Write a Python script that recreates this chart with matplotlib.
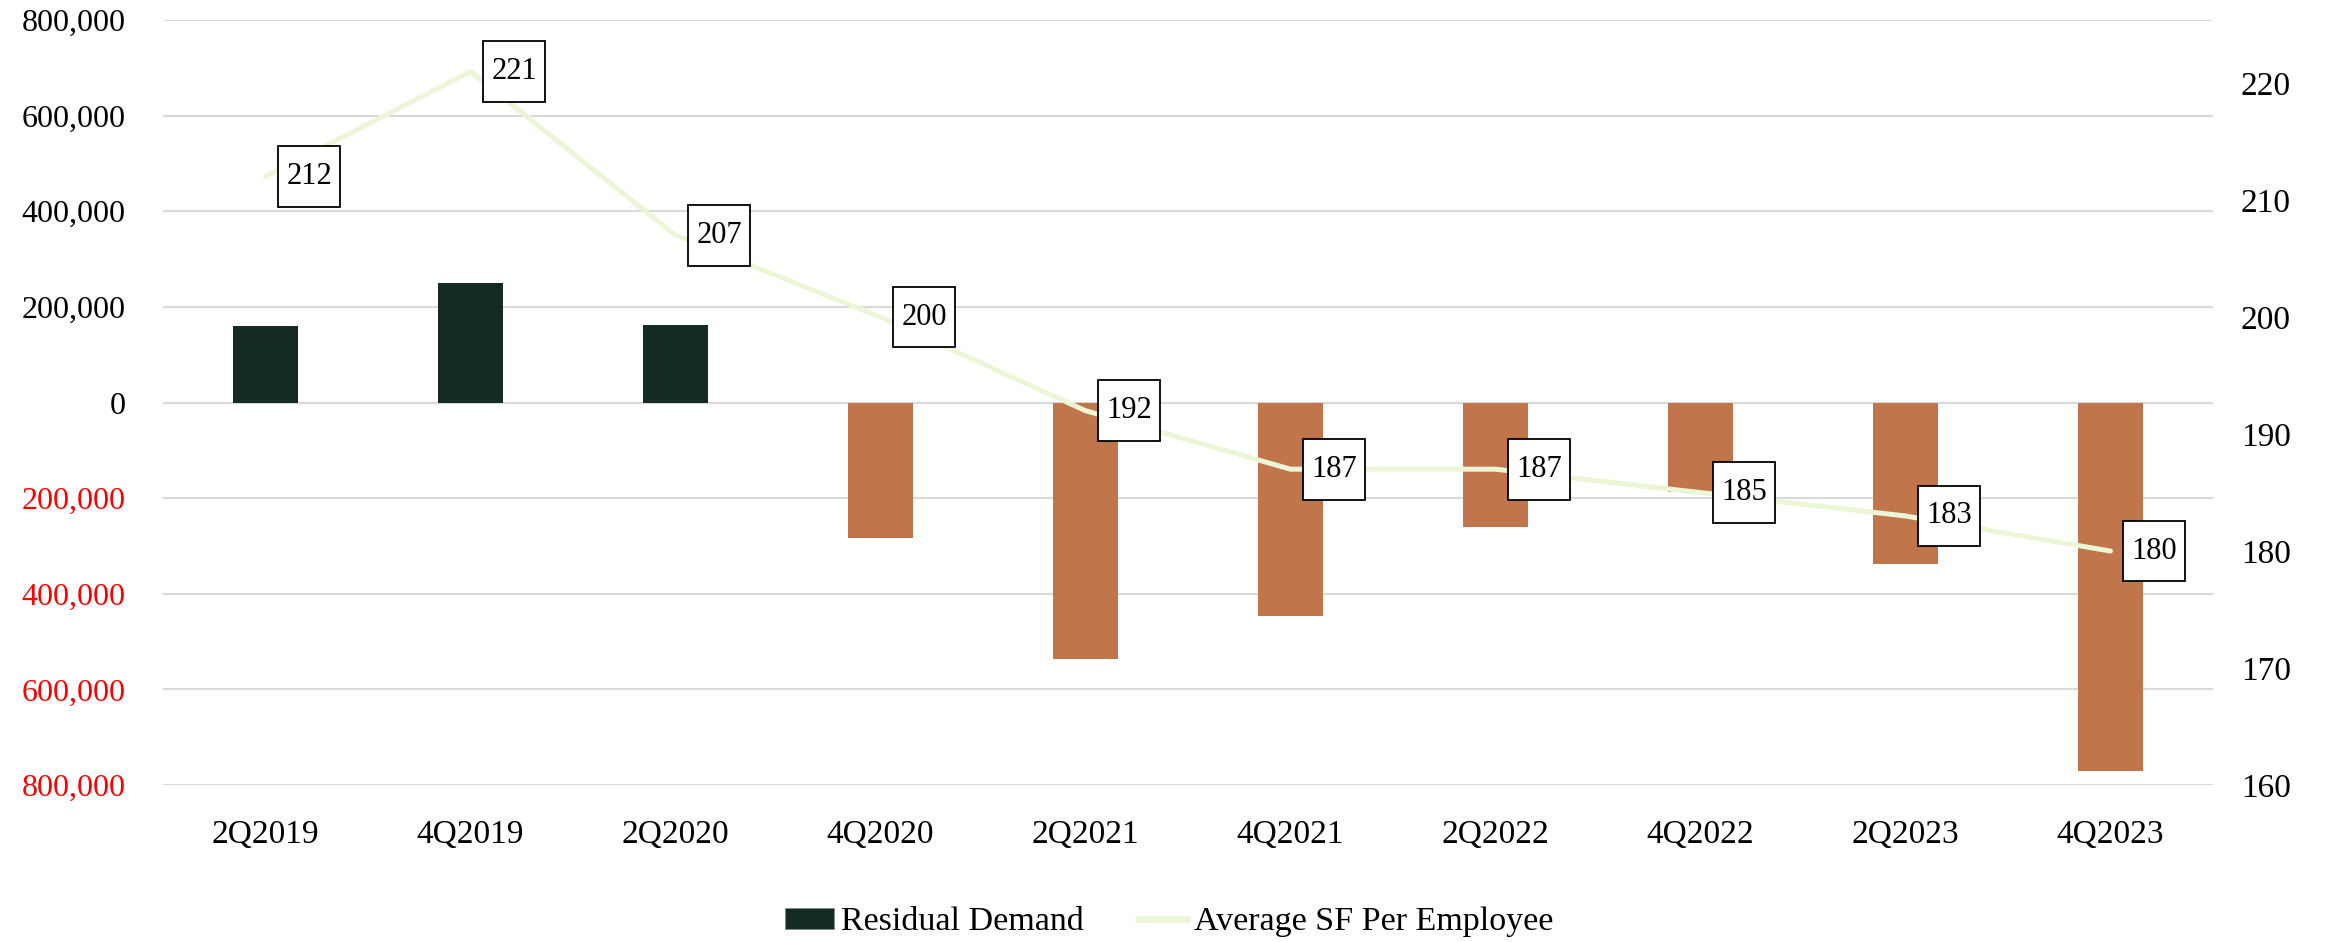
import matplotlib
matplotlib.use("Agg")
import matplotlib.pyplot as plt
from matplotlib.ticker import FuncFormatter, MultipleLocator
from matplotlib.patches import Patch
from matplotlib.lines import Line2D
from matplotlib.path import Path

plt.rcParams["font.family"] = ["Liberation Serif", "DejaVu Serif"]

quarters = ["2Q2019", "4Q2019", "2Q2020", "4Q2020", "2Q2021",
            "4Q2021", "2Q2022", "4Q2022", "2Q2023", "4Q2023"]
residual_demand = [161000, 250000, 162000, -284000, -536000,
                   -447000, -260000, -188000, -338000, -771000]
sf_per_employee = [212, 221, 207, 200, 192, 187, 187, 185, 183, 180]

DARK = "#132B22"
RUST = "#C0754B"
PALE = "#EBF6D6"
GRID = "#D9D9D9"


def label_box(x0, y0, width, height, mutation_size):
    """Rectangle with more vertical than horizontal padding."""
    px = 0.26 * mutation_size
    py = 0.52 * mutation_size
    x0, y0 = x0 - px, y0 - py
    x1, y1 = x0 + width + 2 * px, y0 + height + 2 * py
    return Path([(x0, y0), (x1, y0), (x1, y1), (x0, y1), (x0, y0)],
                closed=True)


fig = plt.figure(figsize=(23.26, 9.42), dpi=100)
ax = fig.add_axes([163 / 2326, 1 - 785 / 942, (2213 - 163) / 2326, (785 - 20) / 942])
ax2 = ax.twinx()

x = list(range(len(quarters)))
colors = [DARK if v >= 0 else RUST for v in residual_demand]
ax.bar(x, residual_demand, width=0.32, color=colors, zorder=2)

ax.set_xlim(-0.5, len(quarters) - 0.5)
ax.set_ylim(-800000, 800000)
ax.yaxis.set_major_locator(MultipleLocator(200000))
ax.yaxis.set_major_formatter(FuncFormatter(lambda v, p: f"{abs(v):,.0f}"))
ax.grid(axis="y", color=GRID, linewidth=1.5, zorder=0)
ax.set_axisbelow(True)
ax.set_xticks(x)
ax.set_xticklabels(quarters)
ax.tick_params(axis="x", length=0, pad=25, labelsize=24)
ax.tick_params(axis="y", length=0, pad=27, labelsize=23)
fig.canvas.draw()
for tick in ax.yaxis.get_major_ticks():
    if tick.get_loc() < 0:
        tick.label1.set_color("red")

ax2.plot(x, sf_per_employee, color=PALE, linewidth=3.6,
         solid_capstyle="round", solid_joinstyle="round", zorder=3)
ax2.set_ylim(160, 225.4)
ax2.set_yticks(range(160, 221, 10))
ax2.tick_params(axis="y", length=0, pad=20, labelsize=24)

for i, v in enumerate(sf_per_employee):
    ax2.annotate(str(v), (i, v), xytext=(15, 0), textcoords="offset points",
                 ha="left", va="center", fontsize=22, color="black", zorder=5,
                 bbox=dict(boxstyle=label_box, fc="white", ec="black", lw=1.3))

for a in (ax, ax2):
    for s in a.spines.values():
        s.set_visible(False)

handles = [Patch(facecolor=DARK, edgecolor="#7F8C86", linewidth=0.6),
           Line2D([0], [0], color=PALE, linewidth=5, solid_capstyle="round")]
fig.legend(handles, ["Residual Demand", "Average SF Per Employee"],
           loc="center", bbox_to_anchor=(0.5026, 0.021), ncol=2, frameon=False,
           fontsize=24.5, handlelength=1.45, handleheight=0.6, handletextpad=0.2,
           columnspacing=1.6)

fig.savefig("out.png", dpi=100)
